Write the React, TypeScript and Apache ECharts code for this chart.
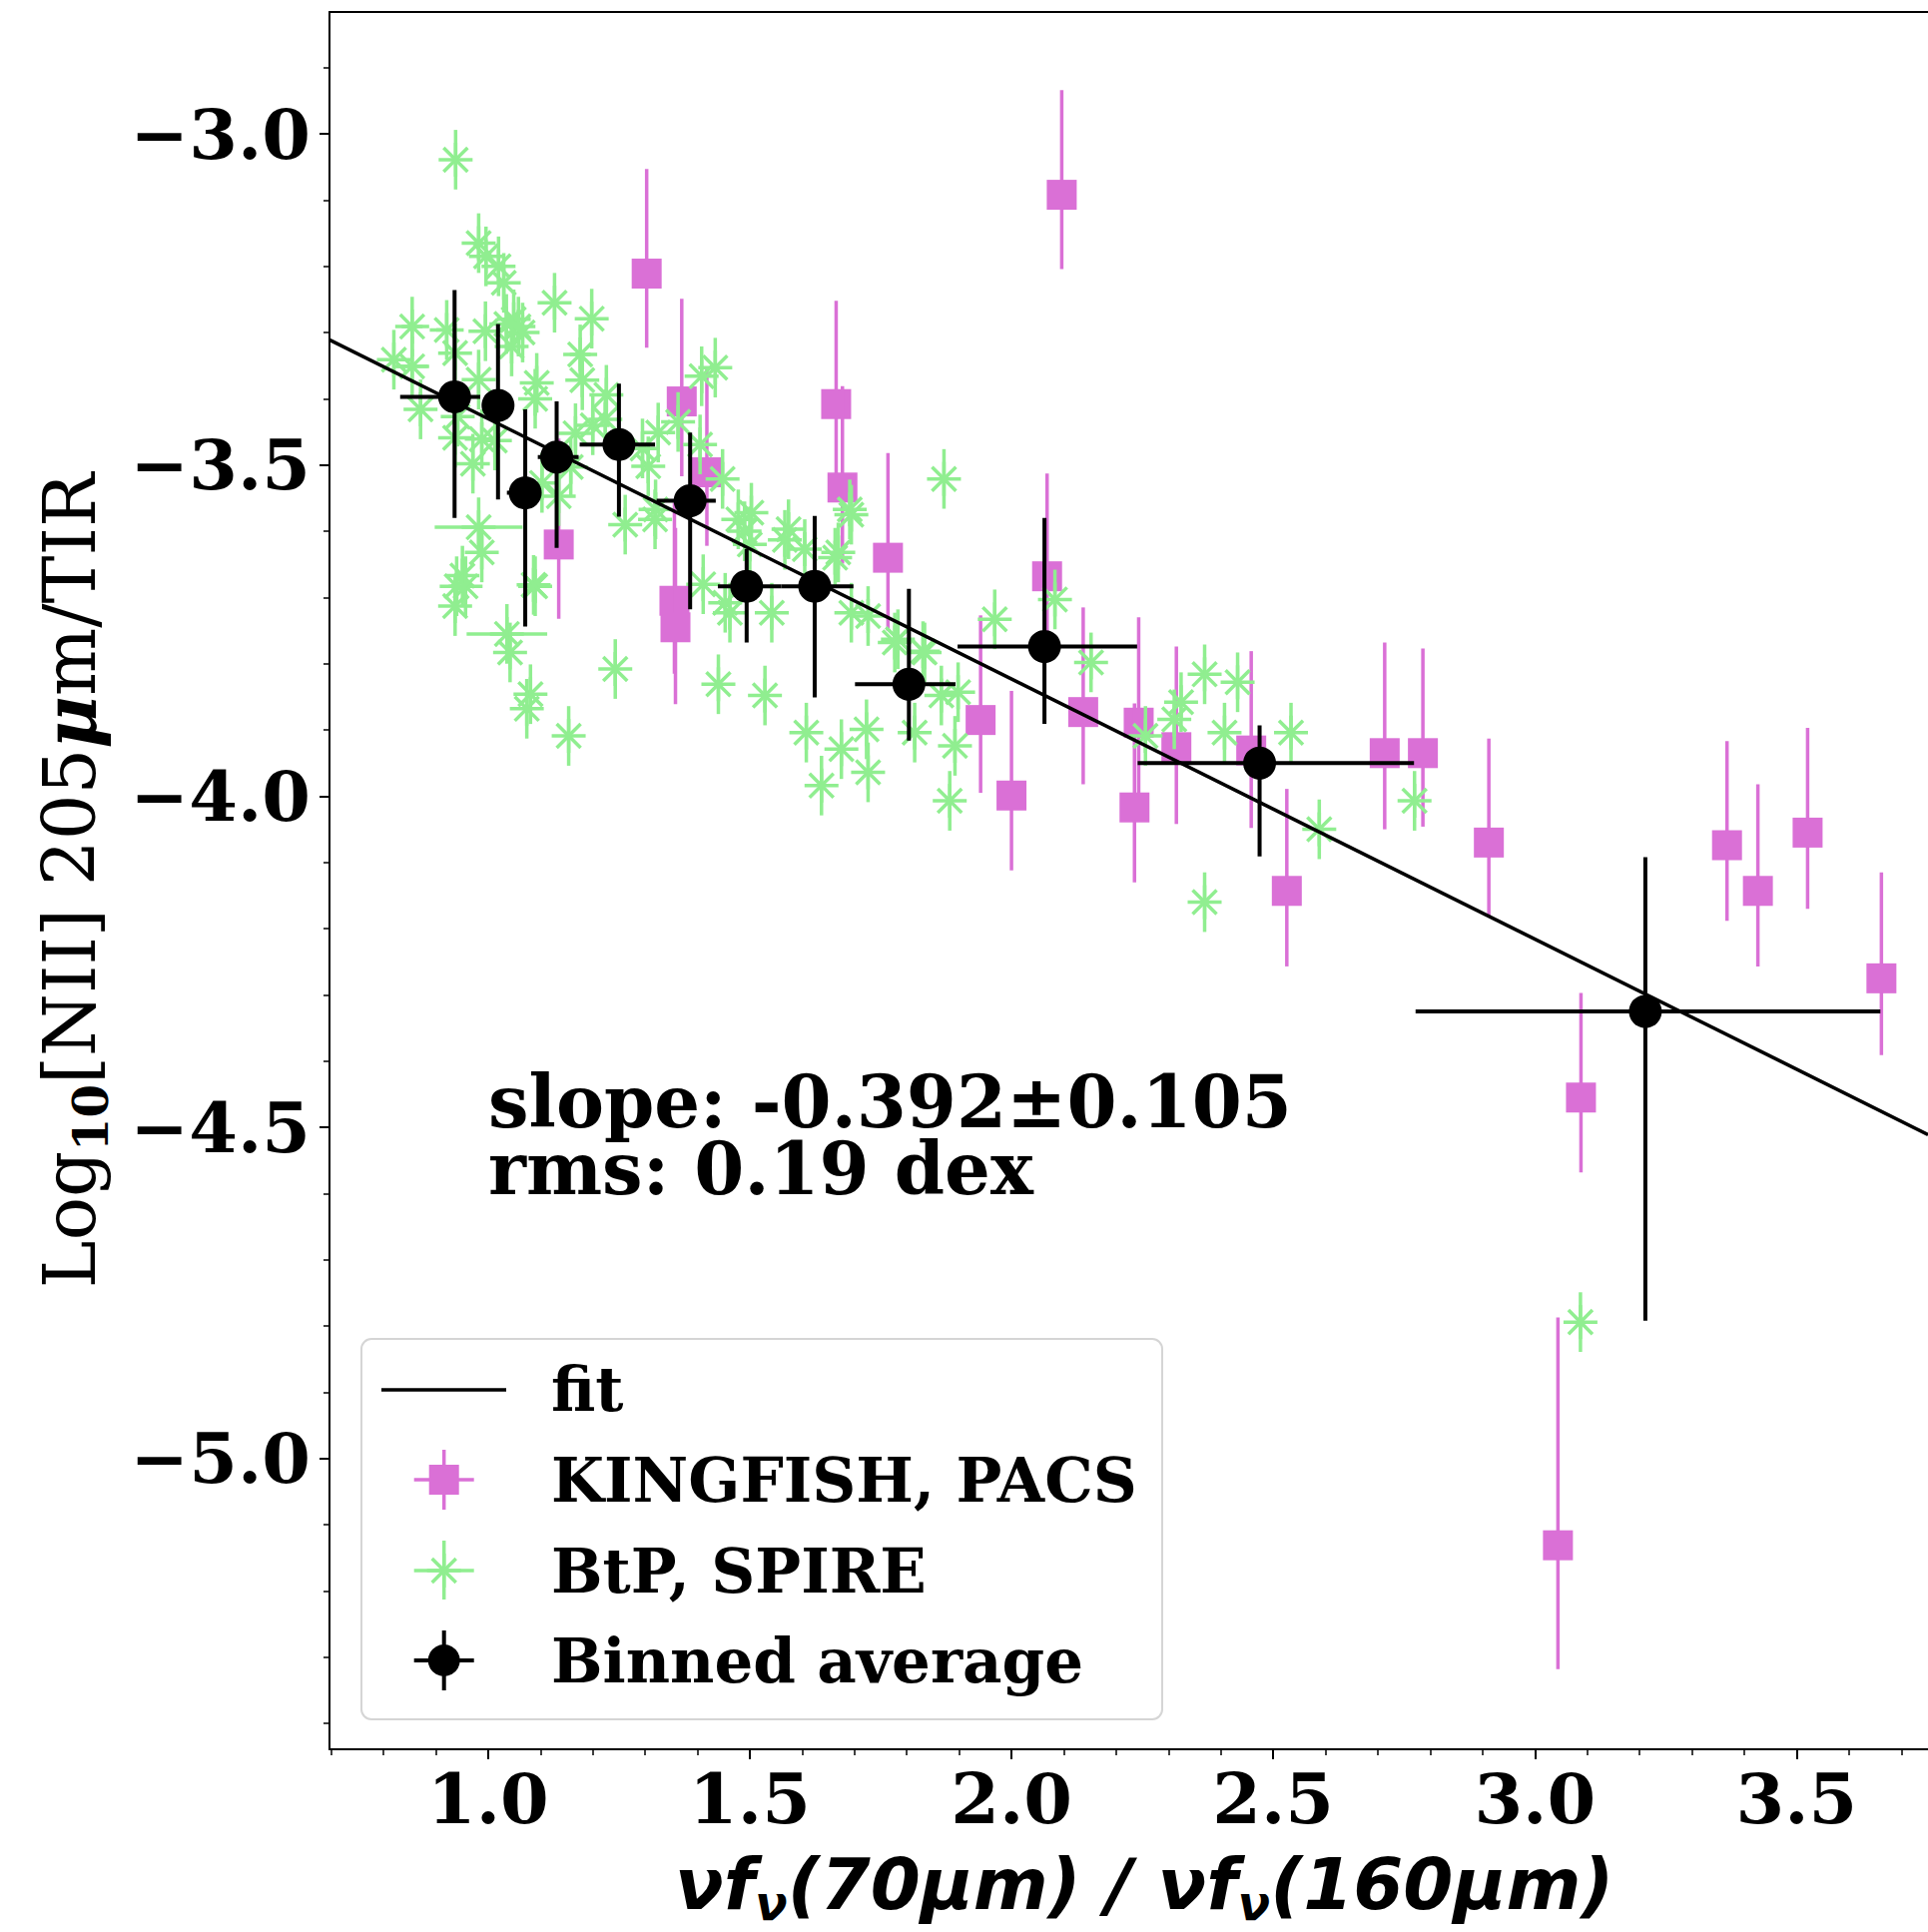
import React, { useEffect, useRef } from 'react';
import * as echarts from 'echarts';

const X_MIN = 0.697;
const X_MAX = 3.751;
const Y_MIN = -5.439;
const Y_MAX = -2.816;

const xMajorTicks = [1.0, 1.5, 2.0, 2.5, 3.0, 3.5];
const xMinorTicks = [0.7, 0.8, 0.9, 1.1, 1.2, 1.3, 1.4, 1.6, 1.7, 1.8, 1.9, 2.1, 2.2, 2.3, 2.4, 2.6, 2.7, 2.8, 2.9, 3.1, 3.2, 3.3, 3.4, 3.6, 3.7];
const yMajorTicks = [-5.0, -4.5, -4.0, -3.5, -3.0];
const yMinorTicks = [-5.4, -5.3, -5.2, -5.1, -4.9, -4.8, -4.7, -4.6, -4.4, -4.3, -4.2, -4.1, -3.9, -3.8, -3.7, -3.6, -3.4, -3.3, -3.2, -3.1, -2.9];

// KINGFISH, PACS
const kfX = [1.303, 1.370, 1.418, 1.135, 1.665, 1.677, 1.356, 1.358, 1.764, 2.068, 1.941, 2.137, 2.243, 2.235, 2.315, 2.458, 2.526, 2.000, 2.713, 2.786, 2.912, 3.367, 3.426, 3.521, 3.662, 3.088, 3.044, 2.096];
const kfY = [-3.211, -3.404, -3.511, -3.620, -3.408, -3.534, -3.705, -3.745, -3.640, -3.668, -3.885, -3.873, -3.889, -4.017, -3.926, -3.931, -4.143, -3.999, -3.935, -3.935, -4.070, -4.074, -4.143, -4.055, -4.275, -4.455, -5.131, -3.092];
const kfYLo = [-3.323, -3.517, -3.622, -3.732, -3.520, -3.649, -3.815, -3.861, -3.750, -3.778, -3.995, -3.982, -3.999, -4.130, -4.042, -4.048, -4.257, -4.112, -4.050, -4.046, -4.182, -4.188, -4.257, -4.170, -4.391, -4.568, -5.318, -3.204];
const kfYHi = [-3.053, -3.249, -3.353, -3.460, -3.252, -3.381, -3.557, -3.595, -3.482, -3.513, -3.727, -3.715, -3.730, -3.860, -3.774, -3.781, -3.989, -3.841, -3.768, -3.777, -3.913, -3.917, -3.982, -3.897, -4.115, -4.297, -4.787, -2.934];

// BtP, SPIRE
const btpX = [0.938, 0.982, 0.996, 1.020, 1.030, 1.049, 1.058, 1.066, 1.127, 1.198, 0.855, 0.921, 0.995, 0.855, 0.820, 0.871, 0.937, 0.982, 1.045, 1.035, 1.176, 1.180, 1.093, 1.090, 0.937, 0.988, 1.013, 0.971, 1.224, 1.200, 1.167, 1.158, 1.103, 1.325, 1.363, 1.306, 1.295, 1.226, 1.405, 1.448, 1.434, 1.408, 1.262, 1.320, 1.319, 0.982, 0.988, 0.940, 0.951, 1.090, 1.135, 1.478, 1.503, 1.490, 1.500, 1.574, 1.567, 1.669, 1.694, 1.453, 0.937, 0.957, 1.036, 1.042, 1.081, 1.074, 1.087, 1.154, 1.243, 1.411, 1.440, 1.462, 1.529, 1.542, 1.608, 1.637, 1.675, 1.663, 1.723, 1.726, 1.694, 1.871, 1.691, 1.605, 1.726, 1.783, 1.831, 1.968, 2.083, 2.152, 2.369, 2.432, 2.324, 2.407, 2.534, 1.892, 1.898, 1.815, 1.777, 1.834, 1.866, 1.882, 2.311, 2.369, 2.588, 2.770, 3.087, 2.256, 0.942];
const btpY = [-3.039, -3.165, -3.185, -3.200, -3.225, -3.280, -3.291, -3.300, -3.255, -3.279, -3.291, -3.296, -3.298, -3.351, -3.341, -3.416, -3.331, -3.371, -3.321, -3.287, -3.333, -3.372, -3.376, -3.400, -3.459, -3.461, -3.463, -3.498, -3.431, -3.440, -3.452, -3.503, -3.527, -3.451, -3.435, -3.502, -3.475, -3.394, -3.469, -3.521, -3.353, -3.366, -3.590, -3.567, -3.582, -3.594, -3.632, -3.683, -3.667, -3.683, -3.547, -3.582, -3.572, -3.600, -3.620, -3.597, -3.613, -3.632, -3.575, -3.708, -3.713, -3.683, -3.755, -3.783, -3.846, -3.868, -3.681, -3.909, -3.808, -3.680, -3.831, -3.723, -3.848, -3.723, -3.904, -3.984, -3.929, -3.640, -3.899, -3.964, -3.723, -3.521, -3.567, -3.627, -3.728, -3.763, -3.781, -3.733, -3.703, -3.798, -3.816, -3.828, -3.858, -3.904, -3.904, -3.924, -3.843, -3.904, -3.768, -3.783, -3.848, -4.007, -3.884, -4.160, -4.050, -4.007, -4.794, -3.909, -3.427];
const btpXErr = [0, 0, 0, 0, 0, 0.02, 0, 0, 0, 0, 0.02, 0.02, 0, 0.03, 0, 0, 0, 0, 0, 0, 0.02, 0, 0, 0, 0, 0, 0, 0, 0, 0, 0, 0, 0, 0, 0, 0, 0, 0, 0, 0, 0, 0, 0, 0, 0, 0.084, 0, 0, 0, 0, 0, 0, 0, 0, 0, 0, 0, 0, 0, 0, 0, 0, 0.077, 0, 0, 0, 0, 0, 0, 0, 0, 0, 0, 0, 0, 0, 0, 0, 0, 0, 0, 0, 0, 0, 0, 0, 0, 0, 0, 0, 0, 0, 0, 0, 0, 0, 0, 0, 0, 0, 0, 0, 0, 0, 0, 0, 0, 0, 0];
const BTP_YERR = 0.045;

// Binned average
const binX = [0.936, 1.019, 1.071, 1.131, 1.250, 1.386, 1.494, 1.624, 1.804, 2.063, 2.474, 3.211];
const binY = [-3.397, -3.410, -3.542, -3.488, -3.469, -3.554, -3.683, -3.683, -3.831, -3.774, -3.950, -4.325];
const binXLo = [0.832, 0.990, 1.036, 1.095, 1.175, 1.322, 1.439, 1.560, 1.701, 1.897, 2.241, 2.772];
const binXHi = [0.985, 1.049, 1.100, 1.173, 1.319, 1.435, 1.560, 1.698, 1.893, 2.240, 2.769, 3.660];
const binYLo = [-3.580, -3.552, -3.744, -3.625, -3.578, -3.718, -3.768, -3.851, -3.916, -3.891, -4.091, -4.792];
const binYHi = [-3.236, -3.287, -3.416, -3.404, -3.377, -3.451, -3.627, -3.577, -3.687, -3.580, -3.893, -4.092];

// fit line end points
const fitX = [0.697, 3.751];
const fitY = [-3.311, -4.511];

const statLines = ['slope: -0.392\u00b10.105', 'rms: 0.19 dex'];

const MAGENTA = '#DA70D6';
const GREEN = '#90EE90';
const SERIF = "'DejaVu Serif', serif";
const SANS = "'DejaVu Sans', sans-serif";

const kfRender = (params: any, api: any) => {
  const x = api.value(0);
  const c = api.coord([x, api.value(1)]);
  const lo = api.coord([x, api.value(2)]);
  const hi = api.coord([x, api.value(3)]);
  return {
    type: 'group',
    children: [
      { type: 'line', shape: { x1: c[0], y1: lo[1], x2: c[0], y2: hi[1] }, style: { stroke: MAGENTA, lineWidth: 3.5 } },
      { type: 'rect', shape: { x: c[0] - 15, y: c[1] - 15, width: 30, height: 30 }, style: { fill: MAGENTA } },
    ],
  };
};

const asterisk = (cx: number, cy: number, a: number, lw: number) => {
  const d = a * 0.7071;
  const st = { stroke: GREEN, lineWidth: lw };
  return [
    { type: 'line', shape: { x1: cx - a, y1: cy, x2: cx + a, y2: cy }, style: st },
    { type: 'line', shape: { x1: cx, y1: cy - a, x2: cx, y2: cy + a }, style: st },
    { type: 'line', shape: { x1: cx - d, y1: cy - d, x2: cx + d, y2: cy + d }, style: st },
    { type: 'line', shape: { x1: cx - d, y1: cy + d, x2: cx + d, y2: cy - d }, style: st },
  ];
};

const btpRender = (params: any, api: any) => {
  const x = api.value(0);
  const y = api.value(1);
  const xe = api.value(2);
  const c = api.coord([x, y]);
  const lo = api.coord([x, y - BTP_YERR]);
  const hi = api.coord([x, y + BTP_YERR]);
  const children: any[] = [
    { type: 'line', shape: { x1: c[0], y1: lo[1], x2: c[0], y2: hi[1] }, style: { stroke: GREEN, lineWidth: 3.5 } },
  ];
  if (xe > 0) {
    const l = api.coord([x - xe, y]);
    const r = api.coord([x + xe, y]);
    children.push({ type: 'line', shape: { x1: l[0], y1: c[1], x2: r[0], y2: c[1] }, style: { stroke: GREEN, lineWidth: 3.5 } });
  }
  children.push(...asterisk(c[0], c[1], 17, 3.5));
  return { type: 'group', children };
};

const binRender = (params: any, api: any) => {
  const x = api.value(0);
  const y = api.value(1);
  const c = api.coord([x, y]);
  const l = api.coord([api.value(2), y]);
  const r = api.coord([api.value(3), y]);
  const lo = api.coord([x, api.value(4)]);
  const hi = api.coord([x, api.value(5)]);
  return {
    type: 'group',
    children: [
      { type: 'line', shape: { x1: l[0], y1: c[1], x2: r[0], y2: c[1] }, style: { stroke: '#000', lineWidth: 4 } },
      { type: 'line', shape: { x1: c[0], y1: lo[1], x2: c[0], y2: hi[1] }, style: { stroke: '#000', lineWidth: 4 } },
      { type: 'circle', shape: { cx: c[0], cy: c[1], r: 16.5 }, style: { fill: '#000' } },
    ],
  };
};

const fmt = (v: number) => v.toFixed(1).replace('-', '\u2212');

const legendX = 444.7;
const legendEls: any[] = [
  { type: 'rect', shape: { x: 362, y: 1341, width: 802, height: 381, r: 10 }, style: { fill: 'rgba(255,255,255,0.8)', stroke: '#d5d5d5', lineWidth: 2 }, z: 100 },
  { type: 'line', shape: { x1: 382, y1: 1392, x2: 507, y2: 1392 }, style: { stroke: '#000', lineWidth: 3.5 }, z: 101 },
  { type: 'line', shape: { x1: legendX - 30, y1: 1482, x2: legendX + 30, y2: 1482 }, style: { stroke: MAGENTA, lineWidth: 3.5 }, z: 101 },
  { type: 'line', shape: { x1: legendX, y1: 1452, x2: legendX, y2: 1512 }, style: { stroke: MAGENTA, lineWidth: 3.5 }, z: 101 },
  { type: 'rect', shape: { x: legendX - 15, y: 1467, width: 30, height: 30 }, style: { fill: MAGENTA }, z: 101 },
  { type: 'line', shape: { x1: legendX - 30, y1: 1573, x2: legendX + 30, y2: 1573 }, style: { stroke: GREEN, lineWidth: 3.5 }, z: 101 },
  { type: 'line', shape: { x1: legendX, y1: 1543, x2: legendX, y2: 1602 }, style: { stroke: GREEN, lineWidth: 3.5 }, z: 101 },
  ...asterisk(legendX, 1573, 17, 3.5).map((e) => ({ ...e, z: 101 })),
  { type: 'line', shape: { x1: legendX - 30, y1: 1663, x2: legendX + 30, y2: 1663 }, style: { stroke: '#000', lineWidth: 4 }, z: 101 },
  { type: 'line', shape: { x1: legendX, y1: 1633, x2: legendX, y2: 1693 }, style: { stroke: '#000', lineWidth: 4 }, z: 101 },
  { type: 'circle', shape: { cx: legendX, cy: 1663, r: 16 }, style: { fill: '#000' }, z: 101 },
  { type: 'text', x: 552, y: 1391, style: { text: 'fit', font: `bold 61px ${SERIF}`, fill: '#000', verticalAlign: 'middle' }, z: 101 },
  { type: 'text', x: 552, y: 1482, style: { text: 'KINGFISH, PACS', font: `bold 61px ${SERIF}`, fill: '#000', verticalAlign: 'middle' }, z: 101 },
  { type: 'text', x: 552, y: 1573, style: { text: 'BtP, SPIRE', font: `bold 61px ${SERIF}`, fill: '#000', verticalAlign: 'middle' }, z: 101 },
  { type: 'text', x: 552, y: 1663, style: { text: 'Binned average', font: `bold 61px ${SERIF}`, fill: '#000', verticalAlign: 'middle' }, z: 101 },
  { type: 'text', x: 489, y: 1070, style: { text: statLines.join('\n'), font: `bold 72px ${SERIF}`, lineHeight: 67, fill: '#000', verticalAlign: 'top' }, z: 50 },
];

const hiddenAxisBits = { splitLine: { show: false }, axisLabel: { show: false } };

const option: any = {
  animation: false,
  backgroundColor: '#ffffff',
  grid: { left: 330, right: 0, top: 12, bottom: 183, containLabel: false },
  xAxis: [
    {
      type: 'value', min: X_MIN, max: X_MAX, position: 'bottom',
      axisLine: { show: true, onZero: false, lineStyle: { color: '#000', width: 2 } },
      axisTick: { show: true, customValues: xMajorTicks, length: 10, lineStyle: { color: '#000', width: 2 } },
      axisLabel: { customValues: xMajorTicks, formatter: fmt, fontFamily: SERIF, fontWeight: 'bold', fontSize: 70, color: '#000', margin: 14 },
      splitLine: { show: false },
      name: '{b|\u03bdf}{s|\u03bd}{b|(70\u03bcm) / \u03bdf}{s|\u03bd}{b|(160\u03bcm)}',
      nameLocation: 'middle',
      nameGap: 92,
      nameTextStyle: {
        padding: [0, 0, 0, 31],
        rich: {
          b: { fontFamily: SANS, fontWeight: 'bold', fontStyle: 'italic', fontSize: 72, lineHeight: 86, color: '#000' },
          s: { fontFamily: SANS, fontWeight: 'bold', fontStyle: 'italic', fontSize: 48, lineHeight: 48, verticalAlign: 'bottom', color: '#000' },
        },
      },
    },
    {
      type: 'value', min: X_MIN, max: X_MAX, position: 'bottom',
      axisLine: { show: false, onZero: false },
      axisTick: { show: true, customValues: xMinorTicks, length: 6, lineStyle: { color: '#000', width: 1.5 } },
      ...hiddenAxisBits,
    },
    {
      type: 'value', min: X_MIN, max: X_MAX, position: 'top',
      axisLine: { show: true, onZero: false, lineStyle: { color: '#000', width: 2 } },
      axisTick: { show: false },
      ...hiddenAxisBits,
    },
  ],
  yAxis: [
    {
      type: 'value', min: Y_MIN, max: Y_MAX, position: 'left',
      axisLine: { show: true, onZero: false, lineStyle: { color: '#000', width: 2 } },
      axisTick: { show: true, customValues: yMajorTicks, length: 10, lineStyle: { color: '#000', width: 2 } },
      axisLabel: { customValues: yMajorTicks, formatter: fmt, fontFamily: SERIF, fontWeight: 'bold', fontSize: 70, color: '#000', margin: 19 },
      splitLine: { show: false },
      name: '{a|Log}{s|10}{a|[NII] 205}{m|\u03bc}{a|m/TIR}',
      nameLocation: 'middle',
      nameRotate: 90,
      nameGap: 215,
      nameTextStyle: {
        rich: {
          a: { fontFamily: SERIF, fontSize: 72, lineHeight: 90, color: '#000' },
          s: { fontFamily: SERIF, fontWeight: 'bold', fontSize: 48, lineHeight: 48, verticalAlign: 'bottom', color: '#000' },
          m: { fontFamily: SERIF, fontWeight: 'bold', fontStyle: 'italic', fontSize: 72, lineHeight: 90, color: '#000' },
        },
      },
    },
    {
      type: 'value', min: Y_MIN, max: Y_MAX, position: 'left',
      axisLine: { show: false, onZero: false },
      axisTick: { show: true, customValues: yMinorTicks, length: 6, lineStyle: { color: '#000', width: 1.5 } },
      ...hiddenAxisBits,
    },
  ],
  series: [
    {
      name: 'KINGFISH, PACS', type: 'custom', renderItem: kfRender, clip: true,
      encode: { x: 0, y: 1 },
      data: kfX.map((x, i) => [x, kfY[i], kfYLo[i], kfYHi[i]]),
    },
    {
      name: 'BtP, SPIRE', type: 'custom', renderItem: btpRender, clip: true,
      encode: { x: 0, y: 1 },
      data: btpX.map((x, i) => [x, btpY[i], btpXErr[i]]),
    },
    {
      name: 'fit', type: 'line', showSymbol: false, symbol: 'none',
      lineStyle: { color: '#000', width: 3.5 },
      data: fitX.map((x, i) => [x, fitY[i]]),
    },
    {
      name: 'Binned average', type: 'custom', renderItem: binRender, clip: true,
      encode: { x: 0, y: 1 },
      data: binX.map((x, i) => [x, binY[i], binXLo[i], binXHi[i], binYLo[i], binYHi[i]]),
    },
  ],
  graphic: legendEls,
};

export default function App() {
  const ref = useRef<HTMLDivElement>(null);
  useEffect(() => {
    if (!ref.current) return;
    const chart = echarts.init(ref.current, null, { renderer: 'svg' });
    chart.setOption(option);
    return () => chart.dispose();
  }, []);
  return <div ref={ref} style={{ position: 'absolute', left: 0, top: 0, width: 1931, height: 1935, background: '#fff' }} />;
}
